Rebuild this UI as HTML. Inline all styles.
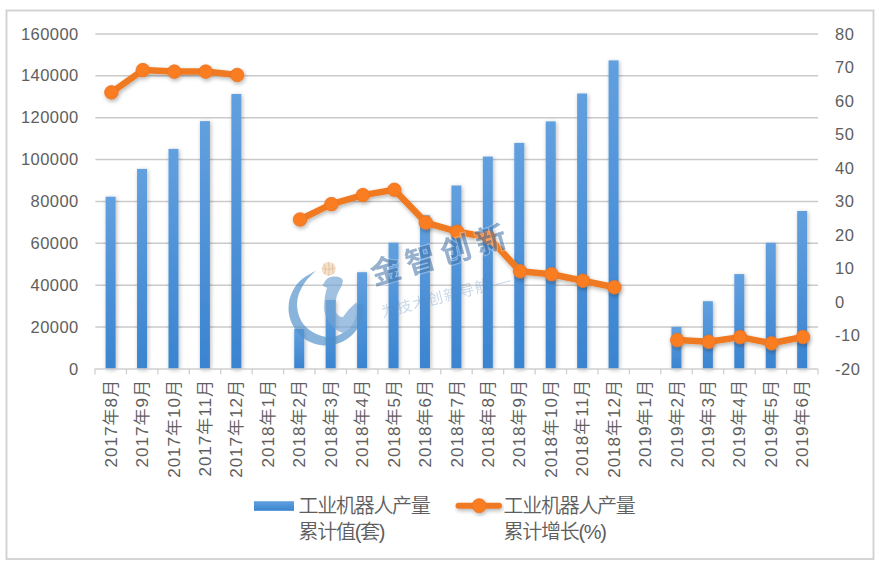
<!DOCTYPE html>
<html lang="zh-CN"><head><meta charset="utf-8"><title>工业机器人产量</title>
<style>html,body{margin:0;padding:0;background:#fff;}body{width:879px;height:569px;overflow:hidden;}svg{display:block;}text{font-family:"Liberation Sans", "Noto Sans CJK SC", sans-serif;fill:#5e5e5e;font-weight:350;}</style></head><body>
<svg width="879" height="569" viewBox="0 0 879 569">
<defs><linearGradient id="bg" x1="0" y1="0" x2="0" y2="1"><stop offset="0" stop-color="#62a0df"/><stop offset="1" stop-color="#3a84d0"/></linearGradient><filter id="sh" x="-50%" y="-20%" width="200%" height="140%"><feGaussianBlur in="SourceAlpha" stdDeviation="2.2" result="b"/><feOffset in="b" dx="0.5" dy="1" result="o"/><feComponentTransfer in="o" result="s"><feFuncA type="linear" slope="0.28"/></feComponentTransfer><feMerge><feMergeNode in="s"/><feMergeNode in="SourceGraphic"/></feMerge></filter><filter id="sh2" x="-10%" y="-30%" width="120%" height="160%"><feGaussianBlur in="SourceAlpha" stdDeviation="2" result="b"/><feOffset in="b" dx="0.5" dy="1.5" result="o"/><feComponentTransfer in="o" result="s"><feFuncA type="linear" slope="0.3"/></feComponentTransfer><feMerge><feMergeNode in="s"/><feMergeNode in="SourceGraphic"/></feMerge></filter></defs>
<rect x="0" y="0" width="879" height="569" fill="#ffffff"/>
<rect x="6.5" y="10.5" width="867" height="548.5" fill="#ffffff" stroke="#d2d2d2" stroke-width="1.9"/>
<line x1="95.4" y1="33.90" x2="818.0" y2="33.90" stroke="#cacaca" stroke-width="1.5"/>
<line x1="95.4" y1="75.78" x2="818.0" y2="75.78" stroke="#cacaca" stroke-width="1.5"/>
<line x1="95.4" y1="117.65" x2="818.0" y2="117.65" stroke="#cacaca" stroke-width="1.5"/>
<line x1="95.4" y1="159.53" x2="818.0" y2="159.53" stroke="#cacaca" stroke-width="1.5"/>
<line x1="95.4" y1="201.40" x2="818.0" y2="201.40" stroke="#cacaca" stroke-width="1.5"/>
<line x1="95.4" y1="243.28" x2="818.0" y2="243.28" stroke="#cacaca" stroke-width="1.5"/>
<line x1="95.4" y1="285.15" x2="818.0" y2="285.15" stroke="#cacaca" stroke-width="1.5"/>
<line x1="95.4" y1="327.02" x2="818.0" y2="327.02" stroke="#cacaca" stroke-width="1.5"/>
<g filter="url(#sh)">
<rect x="105.62" y="196.70" width="10.0" height="172.20" fill="url(#bg)"/>
<rect x="137.05" y="168.90" width="10.0" height="200.00" fill="url(#bg)"/>
<rect x="168.49" y="148.90" width="10.0" height="220.00" fill="url(#bg)"/>
<rect x="199.92" y="121.10" width="10.0" height="247.80" fill="url(#bg)"/>
<rect x="231.36" y="94.00" width="10.0" height="274.90" fill="url(#bg)"/>
<rect x="294.23" y="329.00" width="10.0" height="39.90" fill="url(#bg)"/>
<rect x="325.66" y="300.00" width="10.0" height="68.90" fill="url(#bg)"/>
<rect x="357.10" y="272.20" width="10.0" height="96.70" fill="url(#bg)"/>
<rect x="388.53" y="242.70" width="10.0" height="126.20" fill="url(#bg)"/>
<rect x="419.97" y="215.30" width="10.0" height="153.60" fill="url(#bg)"/>
<rect x="451.40" y="185.50" width="10.0" height="183.40" fill="url(#bg)"/>
<rect x="482.83" y="156.60" width="10.0" height="212.30" fill="url(#bg)"/>
<rect x="514.27" y="142.90" width="10.0" height="226.00" fill="url(#bg)"/>
<rect x="545.70" y="121.40" width="10.0" height="247.50" fill="url(#bg)"/>
<rect x="577.14" y="93.50" width="10.0" height="275.40" fill="url(#bg)"/>
<rect x="608.57" y="60.40" width="10.0" height="308.50" fill="url(#bg)"/>
<rect x="671.44" y="326.90" width="10.0" height="42.00" fill="url(#bg)"/>
<rect x="702.88" y="301.20" width="10.0" height="67.70" fill="url(#bg)"/>
<rect x="734.31" y="274.10" width="10.0" height="94.80" fill="url(#bg)"/>
<rect x="765.75" y="242.80" width="10.0" height="126.10" fill="url(#bg)"/>
<rect x="797.18" y="211.00" width="10.0" height="157.90" fill="url(#bg)"/>
</g>
<line x1="94.5" y1="368.9" x2="818.0" y2="368.9" stroke="#cfcfcf" stroke-width="1.5"/>
<line x1="95.00" y1="368.9" x2="95.00" y2="374.4" stroke="#cfcfcf" stroke-width="1.3"/>
<line x1="126.43" y1="368.9" x2="126.43" y2="374.4" stroke="#cfcfcf" stroke-width="1.3"/>
<line x1="157.87" y1="368.9" x2="157.87" y2="374.4" stroke="#cfcfcf" stroke-width="1.3"/>
<line x1="189.30" y1="368.9" x2="189.30" y2="374.4" stroke="#cfcfcf" stroke-width="1.3"/>
<line x1="220.74" y1="368.9" x2="220.74" y2="374.4" stroke="#cfcfcf" stroke-width="1.3"/>
<line x1="252.17" y1="368.9" x2="252.17" y2="374.4" stroke="#cfcfcf" stroke-width="1.3"/>
<line x1="283.61" y1="368.9" x2="283.61" y2="374.4" stroke="#cfcfcf" stroke-width="1.3"/>
<line x1="315.04" y1="368.9" x2="315.04" y2="374.4" stroke="#cfcfcf" stroke-width="1.3"/>
<line x1="346.48" y1="368.9" x2="346.48" y2="374.4" stroke="#cfcfcf" stroke-width="1.3"/>
<line x1="377.91" y1="368.9" x2="377.91" y2="374.4" stroke="#cfcfcf" stroke-width="1.3"/>
<line x1="409.35" y1="368.9" x2="409.35" y2="374.4" stroke="#cfcfcf" stroke-width="1.3"/>
<line x1="440.78" y1="368.9" x2="440.78" y2="374.4" stroke="#cfcfcf" stroke-width="1.3"/>
<line x1="472.22" y1="368.9" x2="472.22" y2="374.4" stroke="#cfcfcf" stroke-width="1.3"/>
<line x1="503.65" y1="368.9" x2="503.65" y2="374.4" stroke="#cfcfcf" stroke-width="1.3"/>
<line x1="535.09" y1="368.9" x2="535.09" y2="374.4" stroke="#cfcfcf" stroke-width="1.3"/>
<line x1="566.52" y1="368.9" x2="566.52" y2="374.4" stroke="#cfcfcf" stroke-width="1.3"/>
<line x1="597.96" y1="368.9" x2="597.96" y2="374.4" stroke="#cfcfcf" stroke-width="1.3"/>
<line x1="629.39" y1="368.9" x2="629.39" y2="374.4" stroke="#cfcfcf" stroke-width="1.3"/>
<line x1="660.83" y1="368.9" x2="660.83" y2="374.4" stroke="#cfcfcf" stroke-width="1.3"/>
<line x1="692.26" y1="368.9" x2="692.26" y2="374.4" stroke="#cfcfcf" stroke-width="1.3"/>
<line x1="723.70" y1="368.9" x2="723.70" y2="374.4" stroke="#cfcfcf" stroke-width="1.3"/>
<line x1="755.13" y1="368.9" x2="755.13" y2="374.4" stroke="#cfcfcf" stroke-width="1.3"/>
<line x1="786.57" y1="368.9" x2="786.57" y2="374.4" stroke="#cfcfcf" stroke-width="1.3"/>
<line x1="818.00" y1="368.9" x2="818.00" y2="374.4" stroke="#cfcfcf" stroke-width="1.3"/>
<g filter="url(#sh2)">
<polyline points="111.42,92.40 142.85,70.10 174.29,71.60 205.72,71.60 237.16,75.00" fill="none" stroke="#f07a24" stroke-width="6.5" stroke-linejoin="round" stroke-linecap="round"/>
<circle cx="111.42" cy="92.40" r="6.8" fill="#fa7d20" stroke="#e97424" stroke-width="0.8"/>
<circle cx="142.85" cy="70.10" r="6.8" fill="#fa7d20" stroke="#e97424" stroke-width="0.8"/>
<circle cx="174.29" cy="71.60" r="6.8" fill="#fa7d20" stroke="#e97424" stroke-width="0.8"/>
<circle cx="205.72" cy="71.60" r="6.8" fill="#fa7d20" stroke="#e97424" stroke-width="0.8"/>
<circle cx="237.16" cy="75.00" r="6.8" fill="#fa7d20" stroke="#e97424" stroke-width="0.8"/>
<polyline points="300.03,219.50 331.46,204.10 362.90,195.10 394.33,189.80 425.77,222.60 457.20,231.70 488.63,237.30 520.07,271.30 551.50,274.20 582.94,280.70 614.37,287.20" fill="none" stroke="#f07a24" stroke-width="6.5" stroke-linejoin="round" stroke-linecap="round"/>
<circle cx="300.03" cy="219.50" r="6.8" fill="#fa7d20" stroke="#e97424" stroke-width="0.8"/>
<circle cx="331.46" cy="204.10" r="6.8" fill="#fa7d20" stroke="#e97424" stroke-width="0.8"/>
<circle cx="362.90" cy="195.10" r="6.8" fill="#fa7d20" stroke="#e97424" stroke-width="0.8"/>
<circle cx="394.33" cy="189.80" r="6.8" fill="#fa7d20" stroke="#e97424" stroke-width="0.8"/>
<circle cx="425.77" cy="222.60" r="6.8" fill="#fa7d20" stroke="#e97424" stroke-width="0.8"/>
<circle cx="457.20" cy="231.70" r="6.8" fill="#fa7d20" stroke="#e97424" stroke-width="0.8"/>
<circle cx="488.63" cy="237.30" r="6.8" fill="#fa7d20" stroke="#e97424" stroke-width="0.8"/>
<circle cx="520.07" cy="271.30" r="6.8" fill="#fa7d20" stroke="#e97424" stroke-width="0.8"/>
<circle cx="551.50" cy="274.20" r="6.8" fill="#fa7d20" stroke="#e97424" stroke-width="0.8"/>
<circle cx="582.94" cy="280.70" r="6.8" fill="#fa7d20" stroke="#e97424" stroke-width="0.8"/>
<circle cx="614.37" cy="287.20" r="6.8" fill="#fa7d20" stroke="#e97424" stroke-width="0.8"/>
<polyline points="677.24,340.10 708.68,341.80 740.11,337.10 771.55,343.30 802.98,337.00" fill="none" stroke="#f07a24" stroke-width="6.5" stroke-linejoin="round" stroke-linecap="round"/>
<circle cx="677.24" cy="340.10" r="6.8" fill="#fa7d20" stroke="#e97424" stroke-width="0.8"/>
<circle cx="708.68" cy="341.80" r="6.8" fill="#fa7d20" stroke="#e97424" stroke-width="0.8"/>
<circle cx="740.11" cy="337.10" r="6.8" fill="#fa7d20" stroke="#e97424" stroke-width="0.8"/>
<circle cx="771.55" cy="343.30" r="6.8" fill="#fa7d20" stroke="#e97424" stroke-width="0.8"/>
<circle cx="802.98" cy="337.00" r="6.8" fill="#fa7d20" stroke="#e97424" stroke-width="0.8"/>
</g>
<text x="78.7" y="39.50" font-size="16.5" text-anchor="end" letter-spacing="0.45">160000</text>
<text x="78.7" y="81.38" font-size="16.5" text-anchor="end" letter-spacing="0.45">140000</text>
<text x="78.7" y="123.25" font-size="16.5" text-anchor="end" letter-spacing="0.45">120000</text>
<text x="78.7" y="165.12" font-size="16.5" text-anchor="end" letter-spacing="0.45">100000</text>
<text x="78.7" y="207.00" font-size="16.5" text-anchor="end" letter-spacing="0.45">80000</text>
<text x="78.7" y="248.88" font-size="16.5" text-anchor="end" letter-spacing="0.45">60000</text>
<text x="78.7" y="290.75" font-size="16.5" text-anchor="end" letter-spacing="0.45">40000</text>
<text x="78.7" y="332.62" font-size="16.5" text-anchor="end" letter-spacing="0.45">20000</text>
<text x="78.7" y="374.50" font-size="16.5" text-anchor="end" letter-spacing="0.45">0</text>
<text x="835.1" y="39.50" font-size="16.5" text-anchor="start" letter-spacing="0.45">80</text>
<text x="835.1" y="73.00" font-size="16.5" text-anchor="start" letter-spacing="0.45">70</text>
<text x="835.1" y="106.50" font-size="16.5" text-anchor="start" letter-spacing="0.45">60</text>
<text x="835.1" y="140.00" font-size="16.5" text-anchor="start" letter-spacing="0.45">50</text>
<text x="835.1" y="173.50" font-size="16.5" text-anchor="start" letter-spacing="0.45">40</text>
<text x="835.1" y="207.00" font-size="16.5" text-anchor="start" letter-spacing="0.45">30</text>
<text x="835.1" y="240.50" font-size="16.5" text-anchor="start" letter-spacing="0.45">20</text>
<text x="835.1" y="274.00" font-size="16.5" text-anchor="start" letter-spacing="0.45">10</text>
<text x="835.1" y="307.50" font-size="16.5" text-anchor="start" letter-spacing="0.45">0</text>
<text x="835.1" y="341.00" font-size="16.5" text-anchor="start" letter-spacing="0.45">-10</text>
<text x="835.1" y="374.50" font-size="16.5" text-anchor="start" letter-spacing="0.45">-20</text>
<text transform="translate(116.72,379.0) rotate(-90)" font-size="17.1" text-anchor="end" letter-spacing="0.95">2017年8月</text>
<text transform="translate(148.15,379.0) rotate(-90)" font-size="17.1" text-anchor="end" letter-spacing="0.95">2017年9月</text>
<text transform="translate(179.59,379.0) rotate(-90)" font-size="17.1" text-anchor="end" letter-spacing="0.95">2017年10月</text>
<text transform="translate(211.02,379.0) rotate(-90)" font-size="17.1" text-anchor="end" letter-spacing="0.95">2017年11月</text>
<text transform="translate(242.46,379.0) rotate(-90)" font-size="17.1" text-anchor="end" letter-spacing="0.95">2017年12月</text>
<text transform="translate(273.89,379.0) rotate(-90)" font-size="17.1" text-anchor="end" letter-spacing="0.95">2018年1月</text>
<text transform="translate(305.33,379.0) rotate(-90)" font-size="17.1" text-anchor="end" letter-spacing="0.95">2018年2月</text>
<text transform="translate(336.76,379.0) rotate(-90)" font-size="17.1" text-anchor="end" letter-spacing="0.95">2018年3月</text>
<text transform="translate(368.20,379.0) rotate(-90)" font-size="17.1" text-anchor="end" letter-spacing="0.95">2018年4月</text>
<text transform="translate(399.63,379.0) rotate(-90)" font-size="17.1" text-anchor="end" letter-spacing="0.95">2018年5月</text>
<text transform="translate(431.07,379.0) rotate(-90)" font-size="17.1" text-anchor="end" letter-spacing="0.95">2018年6月</text>
<text transform="translate(462.50,379.0) rotate(-90)" font-size="17.1" text-anchor="end" letter-spacing="0.95">2018年7月</text>
<text transform="translate(493.93,379.0) rotate(-90)" font-size="17.1" text-anchor="end" letter-spacing="0.95">2018年8月</text>
<text transform="translate(525.37,379.0) rotate(-90)" font-size="17.1" text-anchor="end" letter-spacing="0.95">2018年9月</text>
<text transform="translate(556.80,379.0) rotate(-90)" font-size="17.1" text-anchor="end" letter-spacing="0.95">2018年10月</text>
<text transform="translate(588.24,379.0) rotate(-90)" font-size="17.1" text-anchor="end" letter-spacing="0.95">2018年11月</text>
<text transform="translate(619.67,379.0) rotate(-90)" font-size="17.1" text-anchor="end" letter-spacing="0.95">2018年12月</text>
<text transform="translate(651.11,379.0) rotate(-90)" font-size="17.1" text-anchor="end" letter-spacing="0.95">2019年1月</text>
<text transform="translate(682.54,379.0) rotate(-90)" font-size="17.1" text-anchor="end" letter-spacing="0.95">2019年2月</text>
<text transform="translate(713.98,379.0) rotate(-90)" font-size="17.1" text-anchor="end" letter-spacing="0.95">2019年3月</text>
<text transform="translate(745.41,379.0) rotate(-90)" font-size="17.1" text-anchor="end" letter-spacing="0.95">2019年4月</text>
<text transform="translate(776.85,379.0) rotate(-90)" font-size="17.1" text-anchor="end" letter-spacing="0.95">2019年5月</text>
<text transform="translate(808.28,379.0) rotate(-90)" font-size="17.1" text-anchor="end" letter-spacing="0.95">2019年6月</text>
<rect x="254" y="501.2" width="40" height="9.6" fill="url(#bg)"/>
<text x="298.6" y="512.6" font-size="20" letter-spacing="-1.3">工业机器人产量</text>
<text x="298.6" y="538.6" font-size="20" letter-spacing="-1.3">累计值(套)</text>
<g filter="url(#sh2)"><line x1="458.5" y1="505.7" x2="499" y2="505.7" stroke="#f07a24" stroke-width="6" stroke-linecap="round"/><circle cx="479.2" cy="505.7" r="7" fill="#fa7d20" stroke="#e97424" stroke-width="0.8"/></g>
<text x="503.6" y="512.6" font-size="20" letter-spacing="-1.3">工业机器人产量</text>
<text x="503.6" y="538.6" font-size="20" letter-spacing="-1.3">累计增长(%)</text>
<g opacity="0.67">
<path d="M316.1 270.5 C314.9 271.2 311.4 273.1 309.1 274.5 C306.8 275.9 304.5 277.1 302.5 278.8 C300.5 280.4 298.6 282.3 296.9 284.3 C295.3 286.3 293.8 288.5 292.7 290.9 C291.5 293.2 290.5 295.7 289.8 298.2 C289.1 300.7 288.7 303.3 288.6 305.9 C288.4 308.5 288.5 311.2 288.9 313.7 C289.3 316.3 290.0 318.9 290.9 321.3 C291.9 323.7 293.1 326.1 294.5 328.3 C295.9 330.5 297.6 332.6 299.4 334.4 C301.2 336.3 303.3 338.0 305.5 339.4 C307.6 340.8 310.0 342.0 312.4 343.0 C314.9 343.9 317.4 344.6 320.0 345.0 C322.6 345.4 325.2 345.6 327.8 345.5 C330.4 345.3 333.1 344.9 335.6 344.3 C338.1 343.6 340.6 342.6 342.9 341.5 C345.2 340.3 347.5 338.9 349.5 337.2 C351.5 335.6 353.4 333.7 355.1 331.7 C356.7 329.7 358.2 327.5 359.3 325.1 C360.5 322.8 361.5 320.3 362.2 317.8 C362.9 315.3 363.3 312.5 363.4 310.1 C363.6 307.7 363.3 304.5 363.2 303.4 L355.5 304.5 C355.3 306.1 355.2 310.9 354.5 314.0 C353.8 317.1 353.1 319.9 351.2 323.0 C349.3 326.1 346.7 330.1 343.3 332.5 C339.9 334.9 335.1 337.0 330.6 337.3 C326.1 337.6 320.9 336.2 316.4 334.1 C311.9 332.0 306.8 328.6 303.7 324.6 C300.6 320.7 298.5 315.1 297.6 310.4 C296.7 305.6 296.9 300.9 298.2 296.1 C299.5 291.4 302.3 286.2 305.3 281.9 C308.3 277.6 314.3 272.4 316.1 270.5 Z" fill="#4f8fca"/>
<path d="M322.5 285.8 C323.3 284.6 325.3 280.1 327.5 278.6 C329.7 277.1 333.1 276.5 335.5 276.6 C337.9 276.7 341.1 277.6 342.2 279.0 C343.3 280.4 342.8 282.5 342.0 285.0 C341.2 287.5 338.6 291.0 337.5 294.0 C336.4 297.0 335.9 300.2 335.6 303.0 C335.3 305.8 335.6 309.7 335.6 311.0 Q336.5 316 342.8 317.3 L348.5 309.8 L356.5 302 L357 312 Q355 322 349.5 328.5 L343.5 333 Q335 331 328.5 321.5 Q324.3 315 324.2 308 Q324.2 296 327 287.8 Z" fill="#73a3d3"/>
</g>
<g opacity="0.9"><circle cx="328.7" cy="268.9" r="7" fill="#f3dcc4"/><path d="M322 268 Q328.7 271 335.4 267.6 M328.2 262 Q330 269 328.6 275.8 M324 263.5 Q327 269 324.4 274.3 M333 263.3 Q331.5 269 333.6 274" fill="none" stroke="#d9b58f" stroke-width="0.7"/></g>
<text transform="translate(385.6,270.6) rotate(-16.3)" x="-15.3" y="10.9" font-size="30.5" letter-spacing="6.1" style="font-weight:700;fill:#4776a8;stroke:#ffffff;stroke-opacity:0.55;stroke-width:2.2;paint-order:stroke fill" opacity="0.57">金智创新</text>
<text transform="translate(388.6,310.5) rotate(-14.5)" x="-7.5" y="5.5" font-size="15" letter-spacing="1.1" style="font-weight:400;fill:#4f86bd" opacity="0.31">为技术创新导航 —</text>
</svg></body></html>
